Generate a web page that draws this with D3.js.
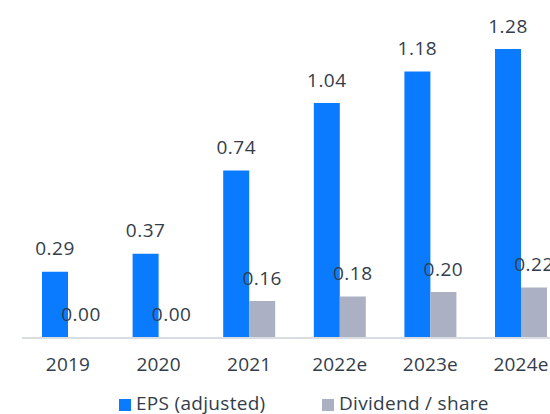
<!DOCTYPE html>
<html>
<head>
<meta charset="utf-8">
<script src="https://cdn.jsdelivr.net/npm/d3@7"></script>
<style>
  html, body { margin: 0; padding: 0; background: #fff; }
  svg { display: block; }
</style>
</head>
<body>
<svg width="550" height="414"></svg>
<script>
const years = ["2019", "2020", "2021", "2022e", "2023e", "2024e"];
const epsValues = [0.29, 0.37, 0.74, 1.04, 1.18, 1.28];
const dividendValues = [0.00, 0.00, 0.16, 0.18, 0.20, 0.22];
const seriesNames = ["EPS (adjusted)", "Dividend / share"];

const colors = ["#0a7bff", "#abb1c3"];
const textColor = "#333d4a";
const font = "'Open Sans', Lato, sans-serif";

const svg = d3.select("svg");
const baseY = 337;

const x = d3.scaleBand()
    .domain(years)
    .range([22.7, 566.3])
    .paddingInner(0.426)
    .paddingOuter(0.213);

const xSub = d3.scaleBand()
    .domain([0, 1])
    .range([0, x.bandwidth()]);

const y = d3.scaleLinear()
    .domain([0, 1.5])
    .range([baseY, baseY - 1.5 * 225]);

const rows = years.map((yr, i) => ({ yr, vals: [epsValues[i], dividendValues[i]] }));

// axis line
svg.append("line")
    .attr("x1", 22)
    .attr("x2", 550)
    .attr("y1", baseY + 1)
    .attr("y2", baseY + 1)
    .attr("stroke", "#d9dde3")
    .attr("stroke-width", 2);

const groups = svg.selectAll(".grp")
    .data(rows).enter().append("g")
    .attr("class", "grp")
    .attr("transform", d => `translate(${x(d.yr)},0)`);

groups.selectAll("rect")
    .data(d => d.vals.map((v, k) => ({ v, k })))
    .enter().append("rect")
    .attr("x", d => xSub(d.k))
    .attr("width", xSub.bandwidth())
    .attr("y", d => y(d.v))
    .attr("height", d => y(0) - y(d.v))
    .attr("fill", d => colors[d.k]);

groups.selectAll("text.val")
    .data(d => d.vals.map((v, k) => ({ v, k })))
    .enter().append("text")
    .attr("class", "val")
    .attr("x", d => xSub(d.k) + xSub.bandwidth() / 2)
    .attr("y", d => y(d.v) - 16.5)
    .attr("text-anchor", "middle")
    .style("font-family", font)
    .style("font-size", "19px")
    .style("letter-spacing", "0.5px")
    .style("fill", textColor)
    .text(d => d.v.toFixed(2));

// category labels
svg.selectAll(".cat")
    .data(years).enter().append("text")
    .attr("class", "cat")
    .attr("x", d => x(d) + x.bandwidth() / 2)
    .attr("y", 370.5)
    .attr("text-anchor", "middle")
    .style("font-family", font)
    .style("font-size", "19px")
    .style("letter-spacing", "0.2px")
    .style("fill", textColor)
    .text(d => d);

// legend
const legendX = [119, 322];
const legend = svg.selectAll(".leg")
    .data(seriesNames).enter().append("g")
    .attr("class", "leg")
    .attr("transform", (d, i) => `translate(${legendX[i]},399)`);

legend.append("rect")
    .attr("width", 12)
    .attr("height", 12)
    .attr("fill", (d, i) => colors[i]);

legend.append("text")
    .attr("x", 17)
    .attr("y", 10.5)
    .style("font-family", font)
    .style("font-size", "19px")
    .style("letter-spacing", "0.3px")
    .style("fill", textColor)
    .text(d => d);
</script>
</body>
</html>
